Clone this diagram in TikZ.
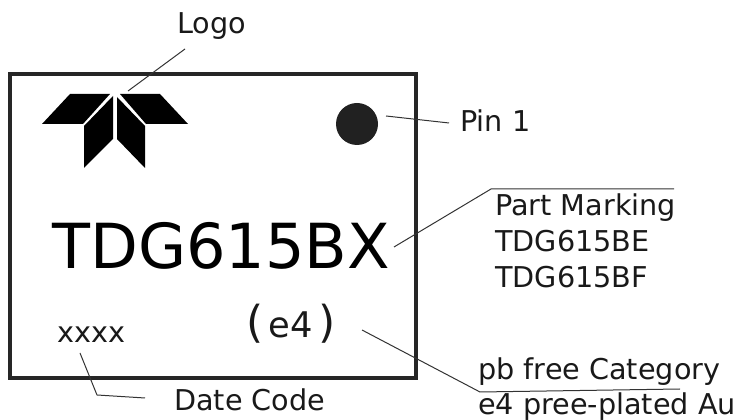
\documentclass[tikz,border=0pt]{standalone}
\usepackage{fontspec}
\setmainfont{DejaVu Sans}
\usetikzlibrary{positioning}

\begin{document}
\begin{tikzpicture}[
    x=0.75pt,
    y=-0.75pt,
    label/.style={
        inner sep=0pt,
        anchor=base west,
        text=black!90,
        font=\fontsize{21.5}{26}\selectfont
    },
    leader/.style={
        line width=0.75pt,
        black!80
    },
    petal/.style={
        fill=black,
        draw=none
    }
]
\useasboundingbox (0,0) rectangle (740,420);

% Package outline
\node[draw=black!85, line width=2.4pt, minimum width=304.5pt, minimum height=228pt, inner sep=0pt] (package) at (213,226) {};

% Logo
\fill[petal] (42,124) -- (70,94) -- (110,94) -- (83,124) -- cycle;
\fill[petal] (120,94) -- (160,94) -- (188,124) -- (146,124) -- cycle;
\fill[petal] (84,126) -- (113,96) -- (113,139) -- (84,168) -- cycle;
\fill[petal] (117,97) -- (145,126) -- (145,168) -- (117,139) -- cycle;

% Pin 1 dot
\node[circle, fill=black!87, minimum size=31.5pt, inner sep=0pt] (pindot) at (357,124) {};

% Marking on the package
\node[label, font=\fontsize{46.6}{50}\selectfont, text=black] (marking) at (52,269) {TDG615BX};
\node[label, font=\fontsize{33}{36}\selectfont] (lead) at (246,338) {(\kern4pt{\fontsize{26.5}{30}\selectfont e4}\kern4pt)};
\node[label] (datecode) at (57,343) {xxxx};

% Labels outside
\node[label] (logotext) at (177,34) {Logo};
\node[label] (pintext) at (460,132) {Pin 1};
\node[label] (parttext) at (495,216) {Part Marking};
\node[label] (parte) at (495,252) {TDG615BE};
\node[label] (partf) at (495,288) {TDG615BF};
\node[label] (pbtext) at (478,380) {pb free Category};
\node[label] (autext) at (478,415) {e4 pree-plated Au};
\node[label] (datetext) at (174,411) {Date Code};

% Leader ends
\coordinate (logoa) at (185,49);
\coordinate (logob) at (128,91);
\coordinate (pina) at (386,116);
\coordinate (pinb) at (449,123);
\coordinate (parta) at (394,247);
\coordinate (partb) at (491,189);
\coordinate (partc) at (674,189);
\coordinate (pba) at (362,330);
\coordinate (pbb) at (480,392);
\coordinate (pbc) at (680,389);
\coordinate (datea) at (80,353);
\coordinate (dateb) at (97,395);
\coordinate (datec) at (145,398);

% Leaders
\draw[leader] (logoa) -- (logob);
\draw[leader] (pina) -- (pinb);
\draw[leader] (parta) -- (partb) -- (partc);
\draw[leader] (pba) -- (pbb) -- (pbc);
\draw[leader] (datea) -- (dateb) -- (datec);

\end{tikzpicture}
\end{document}
